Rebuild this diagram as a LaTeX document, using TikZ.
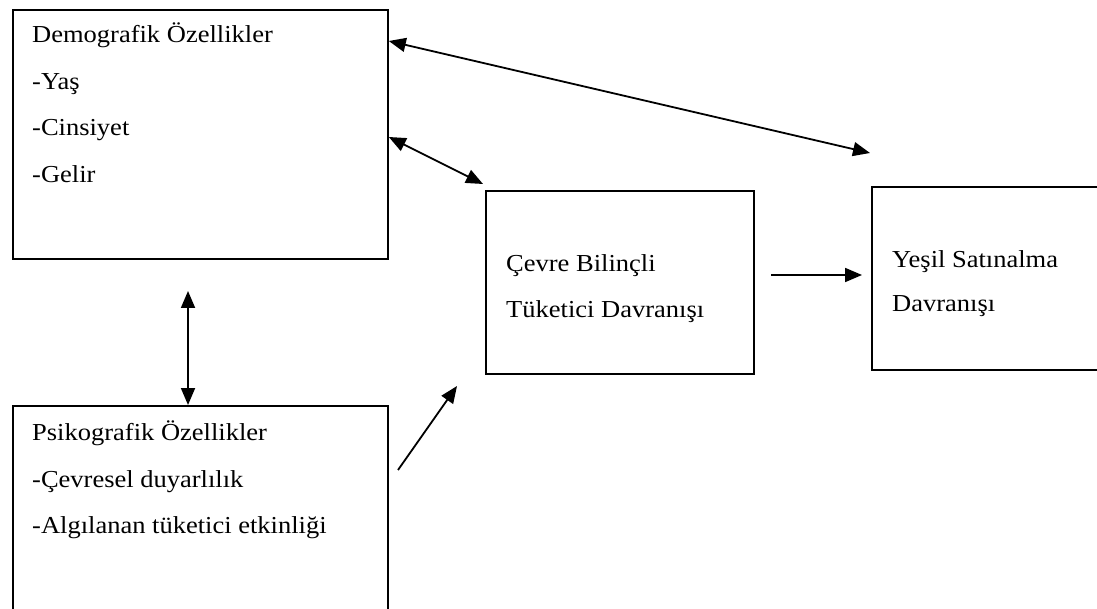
\documentclass[tikz,border=0pt]{standalone}
\usepackage{fontspec}
\setmainfont{Liberation Serif}
\usetikzlibrary{arrows.meta,calc}
\begin{document}
\begin{tikzpicture}[x=1pt,y=-1pt,
  box/.style={draw, line width=1.8pt, inner sep=0pt, anchor=north west},
  txt/.style={anchor=base west, font=\fontsize{26.5}{30}\selectfont, inner sep=0pt, yscale=0.92, transform shape},
  tip/.tip={Triangle[length=17pt,width=14pt]},
  arr/.style={line width=1.8pt, -tip},
  darr/.style={line width=1.8pt, tip-tip}]
\useasboundingbox (0,0) rectangle (1097,609);
\clip (0,0) rectangle (1097,609);
% boxes
\node[box, minimum width=375pt, minimum height=249pt] (b1) at (12,9) {};
\node[box, minimum width=375pt, minimum height=230pt] (b2) at (12,405) {};
\node[box, minimum width=268pt, minimum height=183pt] (b3) at (485,190) {};
\node[box, minimum width=260pt, minimum height=183pt] (b4) at (871,186) {};
% texts
\node[txt] (t1a) at (32,43) {Demografik Özellikler};
\node[txt] (t1b) at (32,90) {-Yaş};
\node[txt] (t1c) at (32,136) {-Cinsiyet};
\node[txt] (t1d) at (32,183) {-Gelir};
\node[txt] (t2a) at (32,440) {Psikografik Özellikler};
\node[txt] (t2b) at (32,487) {-Çevresel duyarlılık};
\node[txt] (t2c) at (32,533) {-Algılanan tüketici etkinliği};
\node[txt] (t3a) at (506,272) {Çevre Bilinçli};
\node[txt] (t3b) at (506,318) {Tüketici Davranışı};
\node[txt] (t4a) at (892,268) {Yeşil Satınalma};
\node[txt] (t4b) at (892,312) {Davranışı};
% connector end points
\coordinate (p1) at ($(b1.north east)+(0,32)$);
\coordinate (p2) at (870,153);
\coordinate (p3) at ($(b1.north east)+(0,128)$);
\coordinate (p4) at (483,184);
\coordinate (p5) at (188,291);
\coordinate (p6) at (b2.north west -| p5);
\coordinate (p7) at (398,470);
\coordinate (p8) at (457,386);
\coordinate (p9) at (771,275);
\coordinate (p10) at (862,275);
% connectors
\draw[darr] (p1) -- (p2);
\draw[darr] (p3) -- (p4);
\draw[darr] (p5) -- (p6);
\draw[arr] (p7) -- (p8);
\draw[arr] (p9) -- (p10);
\end{tikzpicture}
\end{document}
